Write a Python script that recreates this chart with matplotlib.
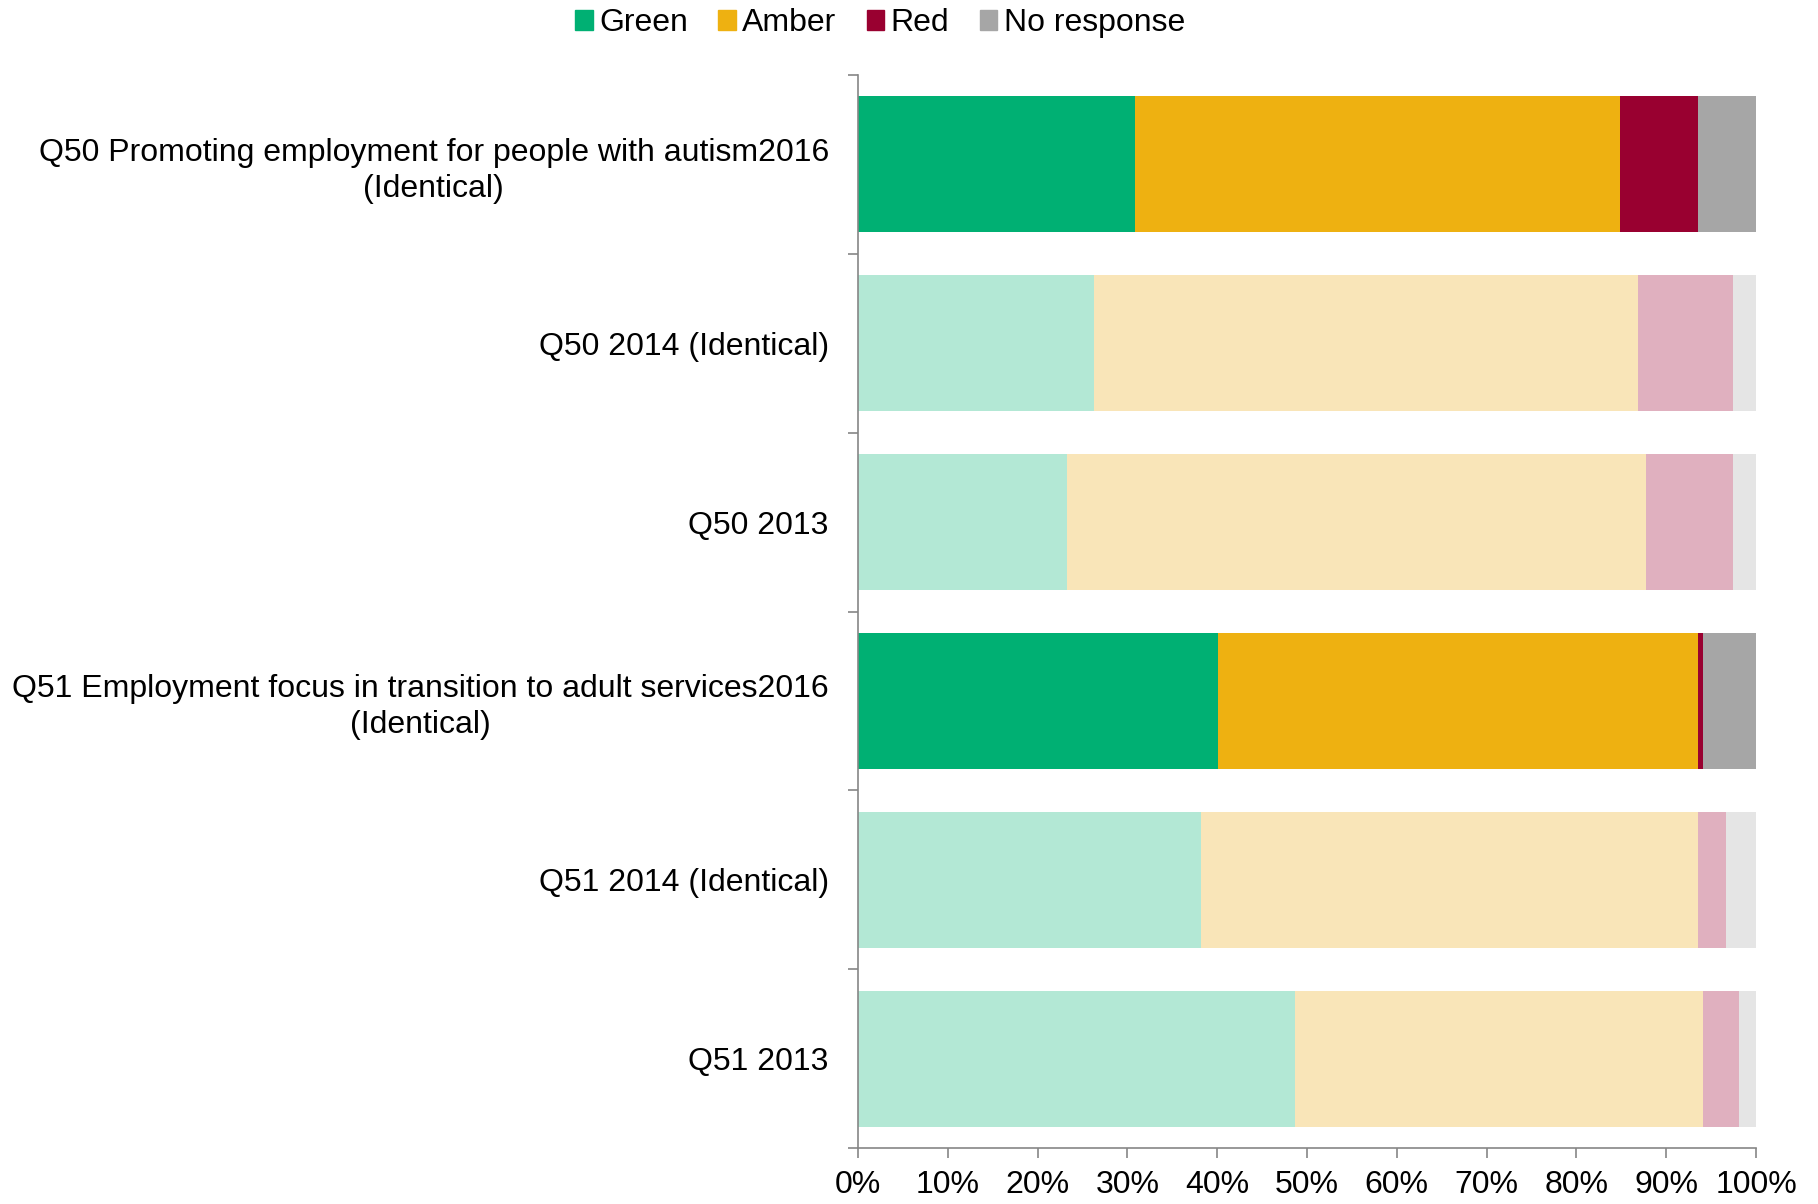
import matplotlib.pyplot as plt
import numpy as np

plt.rcParams['font.family'] = ['Liberation Sans', 'DejaVu Sans']

# Data (percent of respondents)
labels = ["Q50 Promoting employment for people with autism2016\n(Identical)",
          "Q50 2014 (Identical)",
          "Q50 2013",
          "Q51 Employment focus in transition to adult services2016\n(Identical)",
          "Q51 2014 (Identical)",
          "Q51 2013"]
green = [30.9, 26.3, 23.3, 40.1, 38.2, 48.7]
amber = [54.0, 60.6, 64.4, 53.4, 55.3, 45.4]
red = [8.6, 10.5, 9.7, 0.6, 3.2, 4.0]
no_response = [6.5, 2.6, 2.6, 5.9, 3.3, 1.9]
is_current = [True, False, False, True, False, False]

series = ["Green", "Amber", "Red", "No response"]
strong = ["#00B073", "#EEB111", "#990030", "#A6A6A6"]
faded = ["#B3E8D5", "#F9E5B8", "#E0B0BF", "#E5E5E5"]

fig = plt.figure(figsize=(18.18, 12.04), dpi=100)
ax = fig.add_axes([858 / 1818, 1 - 1148 / 1204, 898 / 1818, (1148 - 75) / 1204])

y = np.arange(len(labels))
left = np.zeros(len(labels))
for i, vals in enumerate([green, amber, red, no_response]):
    cols = [strong[i] if c else faded[i] for c in is_current]
    ax.barh(y, vals, left=left, height=0.76, color=cols, label=series[i])
    left += np.array(vals)

ax.set_ylim(len(labels) - 0.5, -0.5)
ax.set_xlim(0, 100)
ax.set_xticks(np.arange(0, 101, 10))
ax.set_xticklabels([f"{v}%" for v in range(0, 101, 10)], fontsize=23)
ax.set_yticks(y)
ax.set_yticklabels(labels, fontsize=23)
for t in ax.get_yticklabels():
    t.set_multialignment('center')
    t.set_linespacing(1.25)
ax.set_yticks(np.arange(-0.5, len(labels)), minor=True)
ax.tick_params(axis='y', which='major', length=0, pad=21)
ax.tick_params(axis='y', which='minor', length=7, width=1.2, color='#868686')
ax.tick_params(axis='x', length=7, width=1.2, color='#868686', pad=9)

for s in ['top', 'right']:
    ax.spines[s].set_visible(False)
for s in ['left', 'bottom']:
    ax.spines[s].set_color('#868686')
    ax.spines[s].set_linewidth(1.2)

handles = [plt.Rectangle((0, 0), 1, 1, color=c) for c in strong]
fig.legend(handles, series, loc='upper center', bbox_to_anchor=(0.484, 1.017), ncol=4,
           frameon=False, fontsize=23, handlelength=0.55, handleheight=0.55,
           handletextpad=0.2, columnspacing=0.95)

fig.savefig("out.png", dpi=100)
